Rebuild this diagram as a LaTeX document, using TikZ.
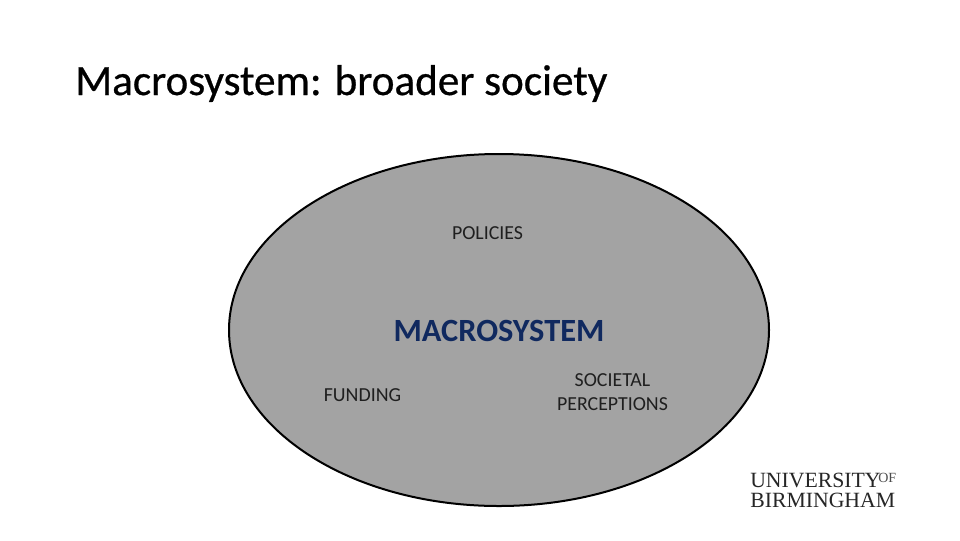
\documentclass[tikz,border=0pt]{standalone}
\usepackage{fontspec}
\usetikzlibrary{shapes.geometric}
\setmainfont{Carlito}
\newfontfamily\titlefont[FakeBold=0.6]{Carlito}
\newfontfamily\logofont{Liberation Serif}
\definecolor{navy}{HTML}{10295F}
\tikzset{
  px/.style={x=0.75pt,y=-0.75pt},
  label/.style={font=\fontsize{14.9pt}{18pt}\selectfont,text=black!88,align=center,inner sep=0pt},
  logotext/.style={font=\logofont\fontsize{16.3pt}{16pt}\selectfont,text=black!85,anchor=base west,inner sep=0pt}
}
\begin{document}
\begin{tikzpicture}[px]
\useasboundingbox (0,0) rectangle (960,540);
\fill[white] (0,0) rectangle (960,540);
\node[anchor=base west,inner sep=0pt,font=\titlefont\fontsize{32.4pt}{36pt}\selectfont,text=black] (title) at (75,95) {Macrosystem: broader society};
\node[draw=black,line width=1.5pt,fill=black!36,ellipse,minimum width=405pt,minimum height=264pt,inner sep=0pt] (macro) at (499,330) {};
\node[label] (policies) at (487.5,233) {POLICIES};
\node[font=\bfseries\fontsize{24.3pt}{28pt}\selectfont,text=navy,inner sep=0pt] (sys) at (499,331) {MACROSYSTEM};
\node[label] (funding) at (362.5,395) {FUNDING};
\node[label] (societal) at (612.5,392) {SOCIETAL\\PERCEPTIONS};
\node[logotext] (uni) at (750,487) {UNIVERSITY};
\node[logotext,font=\logofont\fontsize{10.5pt}{10pt}\selectfont,text=black!70] (of) at (878,482) {OF};
\node[logotext] (bham) at (750,507) {BIRMINGHAM};
\end{tikzpicture}
\end{document}
